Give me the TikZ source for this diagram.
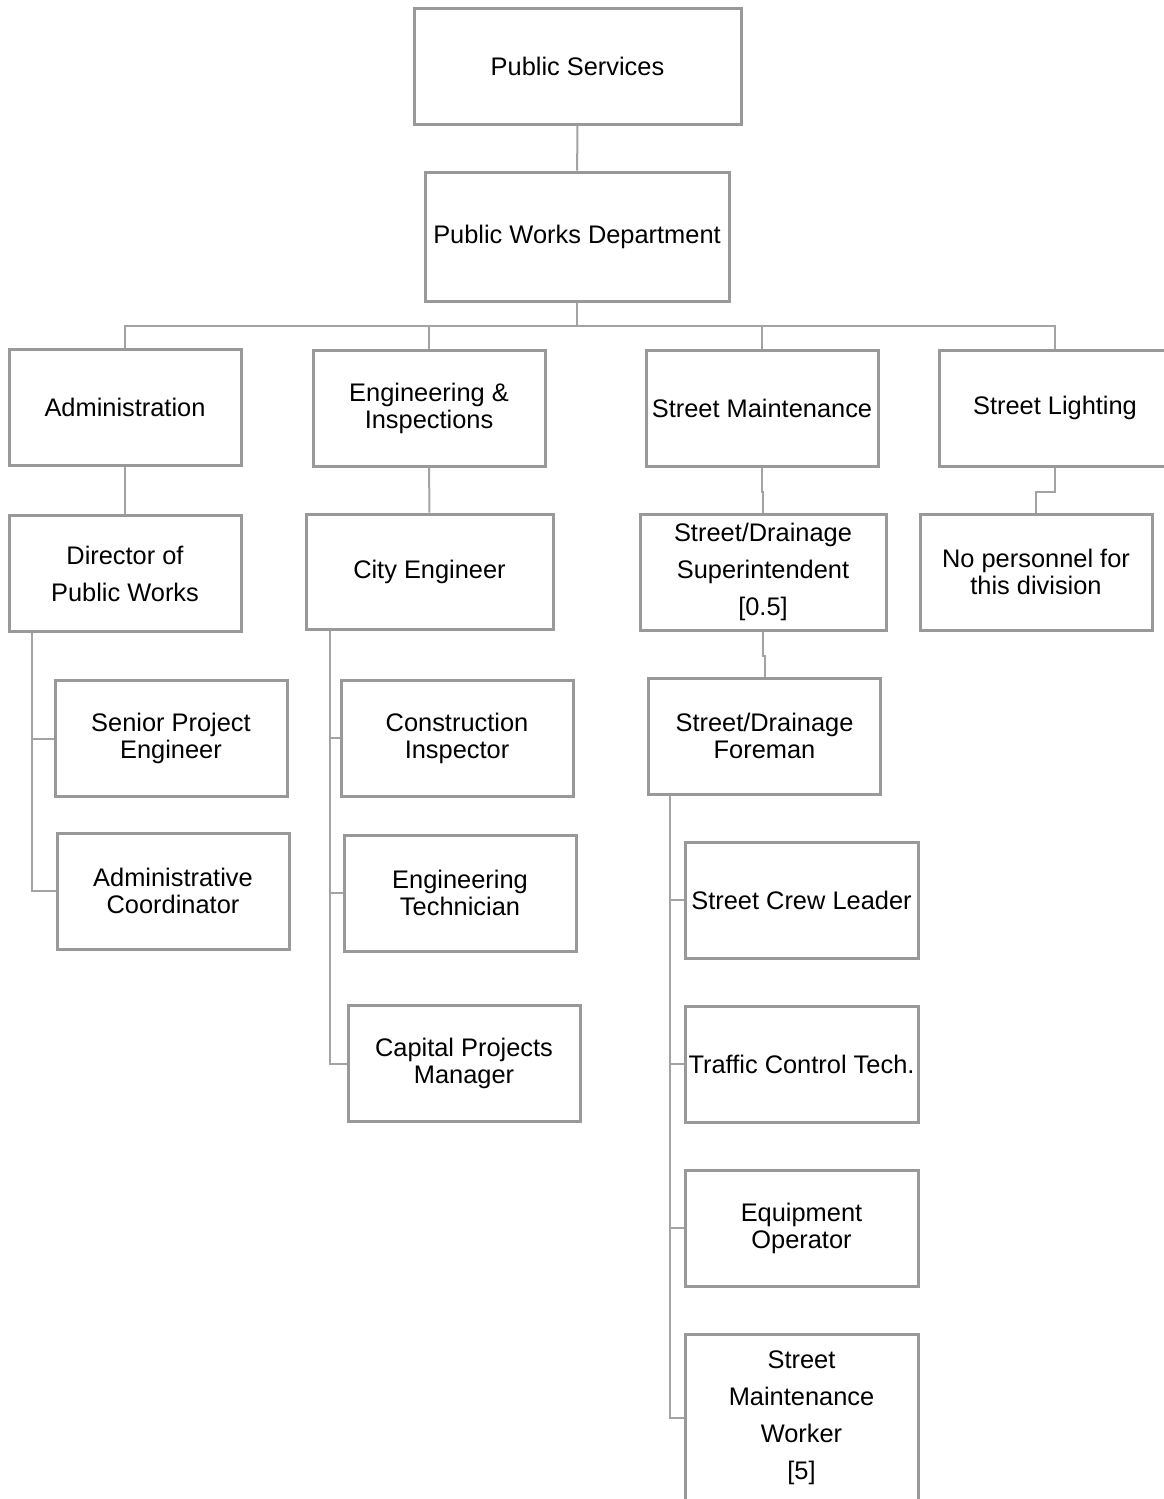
\documentclass[tikz,border=0pt]{standalone}
\usepackage{fontspec}
\setmainfont{Liberation Sans}
\usetikzlibrary{positioning}
\definecolor{boxgray}{HTML}{999999}
\definecolor{linkgray}{HTML}{A3A3A3}
\tikzset{unit/.style={draw=boxgray,line width=1.5pt,fill=white,align=center,inner sep=0pt,minimum width=116pt,minimum height=58pt,font=\fontsize{12.7}{13.5}\selectfont}, unitloose/.style={unit,font=\fontsize{12.7}{18.5}\selectfont}, link/.style={draw=linkgray,line width=1pt}}
\begin{document}
\begin{tikzpicture}[x=0.5pt,y=-0.5pt]
\useasboundingbox (0,0) rectangle (1163,1499);
\node[unit,minimum width=163.5pt] (pws) at (577.5,66) {Public Services};
\node[unit,minimum width=152pt,minimum height=64.5pt] (pwd) at (577,236.5) {Public Works Department};
\coordinate (bus) at (577,326);
\node[unit] (adm) at (125,407.5) {Administration};
\node[unit] (eng) at (429,408.5) {Engineering \&\\Inspections};
\node[unit] (stm) at (762,408) {Street Maintenance};
\node[unit] (sli) at (1055,408) {Street Lighting};
\node[unitloose] (dir) at (125,573.5) {Director of\\Public Works};
\node[unit,minimum width=123.5pt,minimum height=57.5pt] (cen) at (429.5,571.5) {City Engineer};
\node[unitloose,minimum width=123pt] (sup) at (763,572) {Street/Drainage\\Superintendent\\{}[0.5]};
\node[unit] (nop) at (1036,572) {No personnel for\\this division};
\node[unit] (spe) at (171,738.5) {Senior Project\\Engineer};
\node[unit] (adc) at (173,891) {Administrative\\Coordinator};
\node[unit] (cin) at (457,738) {Construction\\Inspector};
\node[unit] (ent) at (460,893) {Engineering\\Technician};
\node[unit] (cpm) at (464,1063.5) {Capital Projects\\Manager};
\node[unit] (fmn) at (764.5,736) {Street/Drainage\\Foreman};
\node[unit,minimum width=116.5pt] (scl) at (801.5,900) {Street Crew Leader};
\node[unit,minimum width=116.5pt] (tct) at (801.5,1064) {Traffic Control Tech.};
\node[unit,minimum width=116.5pt] (eqo) at (801.5,1228) {Equipment\\Operator};
\node[unitloose,minimum width=116.5pt,minimum height=84pt] (smw) at (801.5,1418) {Street\\Maintenance\\Worker\\{}[5]};
\draw[link] (pws)--(pwd);\draw[link] (pwd.south)--(bus);
\draw[link] (adm.north)|-(bus);\draw[link] (eng.north)|-(bus);\draw[link] (stm.north)|-(bus);\draw[link] (sli.north)|-(bus);
\draw[link] (adm)--(dir);\draw[link] (eng)--(cen);
\draw[link] (stm.south)--++(0,24)-|(sup.north);\draw[link] (sup.south)--++(0,24)-|(fmn.north);
\draw[link] (sli.south)--++(0,24)-|(nop.north);
\draw[link] ([xshift=12pt]dir.south west)|-(spe.west);\draw[link] ([xshift=12pt]dir.south west)|-(adc.west);
\draw[link] ([xshift=12.5pt]cen.south west)|-(cin.west);\draw[link] ([xshift=12.5pt]cen.south west)|-(ent.west);\draw[link] ([xshift=12.5pt]cen.south west)|-(cpm.west);
\draw[link] ([xshift=11.5pt]fmn.south west)|-(scl.west);\draw[link] ([xshift=11.5pt]fmn.south west)|-(tct.west);\draw[link] ([xshift=11.5pt]fmn.south west)|-(eqo.west);\draw[link] ([xshift=11.5pt]fmn.south west)|-(smw.west);
\end{tikzpicture}
\end{document}
